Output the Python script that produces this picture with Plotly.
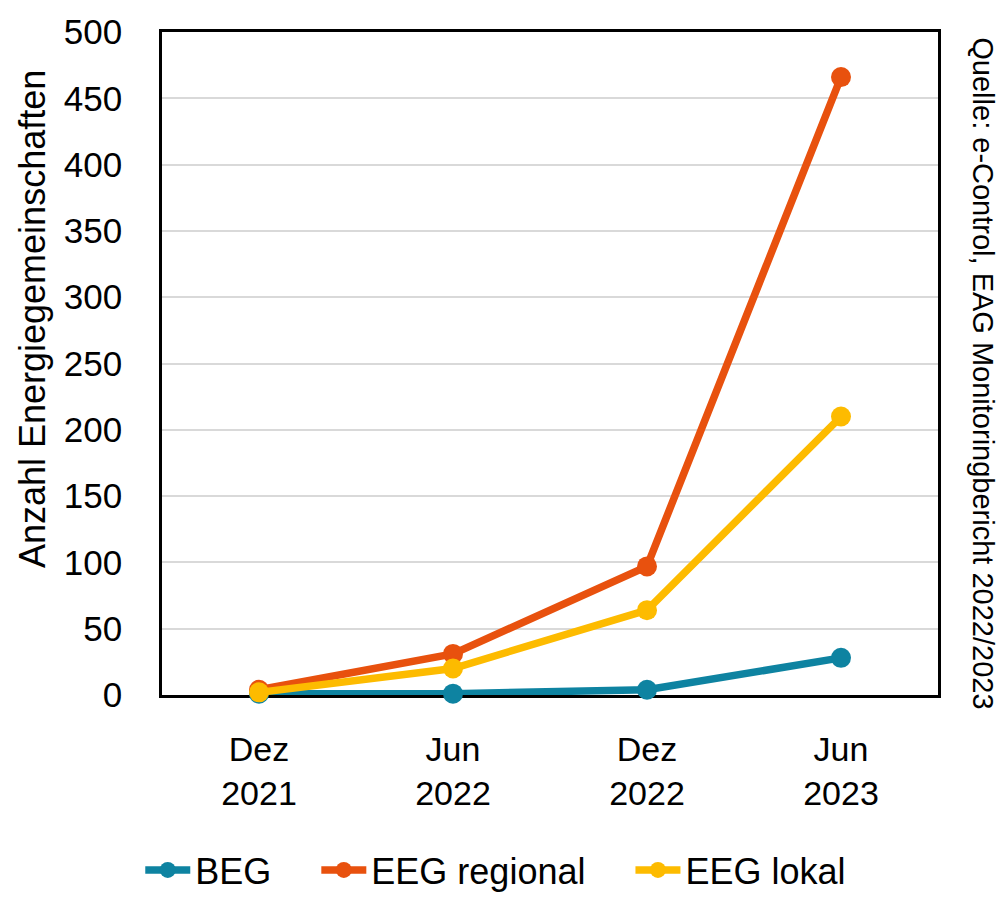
import plotly.graph_objects as go

categories = ["Dez<br>2021", "Jun<br>2022", "Dez<br>2022", "Jun<br>2023"]
beg = [1, 1, 4, 28]
eeg_regional = [4, 31, 97, 466]
eeg_lokal = [2, 20, 64, 210]

series_names = ["BEG", "EEG regional", "EEG lokal"]
series_values = [beg, eeg_regional, eeg_lokal]
series_colors = ["rgb(14,131,161)", "rgb(232,81,14)", "rgb(253,187,0)"]

font_family = "Liberation Sans, Arial, sans-serif"
pad = "\u00a0" * 4

fig = go.Figure()
for name, vals, col in zip(series_names, series_values, series_colors):
    fig.add_trace(go.Scatter(
        x=categories, y=vals, name=name + pad, mode="lines+markers",
        line=dict(color=col, width=7.5),
        marker=dict(color=col, size=20),
        cliponaxis=False,
    ))

fig.update_layout(
    width=1002, height=912,
    margin=dict(l=162, r=64, t=23, b=201),
    paper_bgcolor="white", plot_bgcolor="white",
    font=dict(family=font_family, color="black", size=34),
    showlegend=True,
    legend=dict(orientation="h", x=-0.028, xanchor="left", y=-0.264, yanchor="middle",
                font=dict(size=36), itemwidth=45, traceorder="normal"),
    annotations=[
        dict(text="Anzahl Energiegemeinschaften", xref="paper", yref="paper",
             x=-0.1675, y=0.567, xanchor="center", yanchor="middle",
             textangle=-90, showarrow=False, font=dict(size=36)),
        dict(text="Quelle: e-Control, EAG Monitoringbericht 2022/2023", xref="paper", yref="paper",
             x=1.058, y=0.995, xanchor="center", yanchor="top",
             textangle=90, showarrow=False, font=dict(size=29)),
    ],
)

fig.update_xaxes(
    type="category", range=[-0.5, 3.5],
    showline=True, linecolor="black", linewidth=2.5, mirror=True,
    showgrid=False, ticks="", ticklabelstandoff=22,
    tickfont=dict(size=34), layer="below traces",
)
fig.update_yaxes(
    range=[0, 500], dtick=50, tick0=0,
    showline=True, linecolor="black", linewidth=2.5, mirror=True,
    showgrid=True, gridcolor="#d9d9d9", gridwidth=2,
    zeroline=False, ticks="", ticklabelstandoff=30,
    tickfont=dict(size=35), layer="below traces",
)

fig.write_html("out.html")
